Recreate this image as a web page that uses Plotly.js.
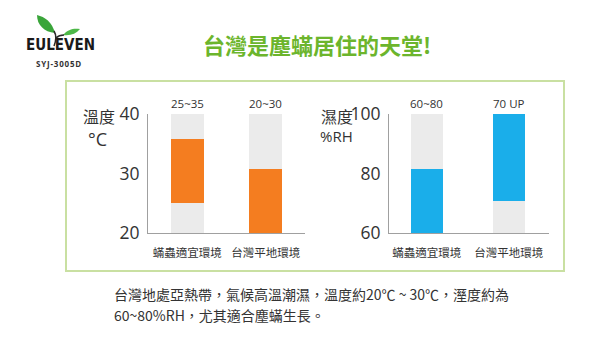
<!DOCTYPE html>
<html><head><meta charset="utf-8">
<script src="https://cdn.plot.ly/plotly-3.0.1.min.js"></script>
<style>html,body{margin:0;padding:0;background:#fff}#c{width:600px;height:360px}</style>
</head><body><div id="c"></div>
<script>
// ---- data ----
const categories = ['蟎蟲適宜環境', '台灣平地環境'];
const tempLow = [25, 20];
const tempHigh = [35.8, 30.8];
const tempLabels = ['25~35', '20~30'];
const tempTicks = [20, 30, 40];
const humLow = [60, 70.8];
const humHigh = [81.5, 100];
const humLabels = ['60~80', '70 UP'];
const humTicks = [60, 80, 100];
const titleText = '台灣是塵蟎居住的天堂!';
const noteLines = ['台灣地處亞熱帶，氣候高溫潮濕，溫度約20℃ ~ 30℃，溼度約為', '60~80%RH，尤其適合塵蟎生長。'];

// ---- styles ----
const CJK = '"Noto Sans CJK TC", "Noto Sans", sans-serif';
const NUM = '"Open Sans", "Noto Sans", sans-serif';
const GRAY = '#ebebeb', ORANGE = '#f47d20', BLUE = '#1aaeea', TXT = '#333333';
const W = 600, H = 360;
const px = x => x / W, py = y => 1 - y / H;

const diff = (hi, lo) => hi.map((v, i) => v - lo[i]);
const full = (ticks) => categories.map(() => ticks[ticks.length - 1] - ticks[0]);
const start = (ticks) => categories.map(() => ticks[0]);
const traces = [
  {type: 'bar', x: categories, y: full(tempTicks), base: start(tempTicks),
   marker: {color: GRAY}, width: 0.42, xaxis: 'x', yaxis: 'y', hoverinfo: 'skip'},
  {type: 'bar', x: categories, y: diff(tempHigh, tempLow), base: tempLow,
   marker: {color: ORANGE}, width: 0.42, xaxis: 'x', yaxis: 'y'},
  {type: 'bar', x: categories, y: full(humTicks), base: start(humTicks),
   marker: {color: GRAY}, width: 0.39, xaxis: 'x2', yaxis: 'y2', hoverinfo: 'skip'},
  {type: 'bar', x: categories, y: diff(humHigh, humLow), base: humLow,
   marker: {color: BLUE}, width: 0.39, xaxis: 'x2', yaxis: 'y2'}
];

const xCommon = {type: 'category', showline: true, linecolor: '#a0a0a0', linewidth: 1, ticks: '', showgrid: false,
  zeroline: false, tickfont: {family: CJK, size: 11.5, color: TXT}, ticklabelstandoff: 9, fixedrange: true};
const yCommon = {showline: true, linecolor: '#a0a0a0', linewidth: 1, ticks: '', showgrid: false, zeroline: false,
  tickfont: {family: NUM, size: 17.5, color: TXT}, ticklabelstandoff: 4, fixedrange: true};

const annotations = [];
categories.forEach((c, i) => {
  annotations.push({xref: 'x', yref: 'y', x: c, y: tempTicks[2], text: tempLabels[i], showarrow: false,
    yanchor: 'bottom', yshift: 1, font: {family: NUM, size: 11.5, color: TXT}});
  annotations.push({xref: 'x2', yref: 'y2', x: c, y: humTicks[2], text: humLabels[i], showarrow: false,
    yanchor: 'bottom', yshift: 1, font: {family: NUM, size: 11.5, color: TXT}});
});
annotations.push(
  {xref: 'paper', yref: 'paper', x: px(81), y: py(116), xanchor: 'left', yanchor: 'middle', text: '溫度', showarrow: false, font: {family: CJK, size: 16, color: TXT}},
  {xref: 'paper', yref: 'paper', x: px(86), y: py(139), xanchor: 'left', yanchor: 'middle', text: '°C', showarrow: false, font: {family: NUM, size: 18, color: TXT}},
  {xref: 'paper', yref: 'paper', x: px(319), y: py(116), xanchor: 'left', yanchor: 'middle', text: '濕度', showarrow: false, font: {family: CJK, size: 16, color: TXT}},
  {xref: 'paper', yref: 'paper', x: px(318), y: py(136), xanchor: 'left', yanchor: 'middle', text: '%RH', showarrow: false, font: {family: NUM, size: 15, color: TXT}},
  {xref: 'paper', yref: 'paper', x: px(112), y: py(294), xanchor: 'left', yanchor: 'middle', text: noteLines[0], showarrow: false, font: {family: CJK, size: 14, color: TXT}},
  {xref: 'paper', yref: 'paper', x: px(112), y: py(315), xanchor: 'left', yanchor: 'middle', text: noteLines[1], showarrow: false, font: {family: CJK, size: 14, color: TXT}},
  {xref: 'paper', yref: 'paper', x: px(60), y: py(45), xanchor: 'center', yanchor: 'middle', text: 'EULEVEN', showarrow: false, font: {family: '"DejaVu Sans Condensed", "DejaVu Sans", sans-serif', size: 15, color: '#1a1a1a', weight: 'bold'}},
  {xref: 'paper', yref: 'paper', x: px(58), y: py(64), xanchor: 'center', yanchor: 'middle', text: 'S\u200aY\u200aJ\u200a-\u200a3\u200a0\u200a0\u200a5\u200aD', showarrow: false, font: {family: NUM, size: 8, color: '#333', weight: 'bold'}}
);

const P = (x, y) => px(x).toFixed(4) + ',' + py(y).toFixed(4);
const shapes = [
  {type: 'rect', xref: 'paper', yref: 'paper', x0: px(66), x1: px(564), y0: py(271), y1: py(81), line: {color: '#c9e0a2', width: 2}, layer: 'below'},
  // logo leaves & stem
  {type: 'path', xref: 'paper', yref: 'paper', path: 'M' + P(55, 33) + ' C' + P(52, 22) + ' ' + P(45, 17) + ' ' + P(37, 15) + ' C' + P(37, 25) + ' ' + P(44, 32) + ' ' + P(55, 33) + ' Z', fillcolor: '#3aa53a', line: {width: 0}},
  {type: 'path', xref: 'paper', yref: 'paper', path: 'M' + P(63, 35) + ' C' + P(68, 29) + ' ' + P(74, 28) + ' ' + P(80, 29) + ' C' + P(76, 34) + ' ' + P(70, 36) + ' ' + P(63, 35) + ' Z', fillcolor: '#4db848', line: {width: 0}},
  {type: 'path', xref: 'paper', yref: 'paper', path: 'M' + P(54, 31) + ' C' + P(57, 36) + ' ' + P(56, 41) + ' ' + P(54, 46) + ' M' + P(56, 38) + ' C' + P(58, 36) + ' ' + P(61, 35) + ' ' + P(64, 35), line: {color: '#2a2a2a', width: 1.5}}
];

const layout = {
  width: W, height: H, margin: {l: 0, r: 0, t: 0, b: 0}, paper_bgcolor: '#fff', plot_bgcolor: 'rgba(0,0,0,0)',
  showlegend: false, barmode: 'overlay', bargap: 0,
  title: {text: titleText, x: px(317), y: py(46), xanchor: 'center', yanchor: 'middle', xref: 'paper', yref: 'paper',
    font: {family: CJK, size: 22, color: '#6cb52c', weight: 'bold'}},
  xaxis: Object.assign({}, xCommon, {domain: [px(148), px(305)], range: [-0.5, 1.5], anchor: 'y'}),
  yaxis: Object.assign({}, yCommon, {domain: [py(233), py(114)], range: [20, 40], tickvals: tempTicks, anchor: 'x'}),
  xaxis2: Object.assign({}, xCommon, {domain: [px(389), px(549)], range: [-0.46, 1.49], anchor: 'y2'}),
  yaxis2: Object.assign({}, yCommon, {domain: [py(233), py(114)], range: [60, 100], tickvals: humTicks, anchor: 'x2'}),
  annotations: annotations, shapes: shapes
};
Plotly.newPlot('c', traces, layout, {displayModeBar: false, staticPlot: true});
</script></body></html>
